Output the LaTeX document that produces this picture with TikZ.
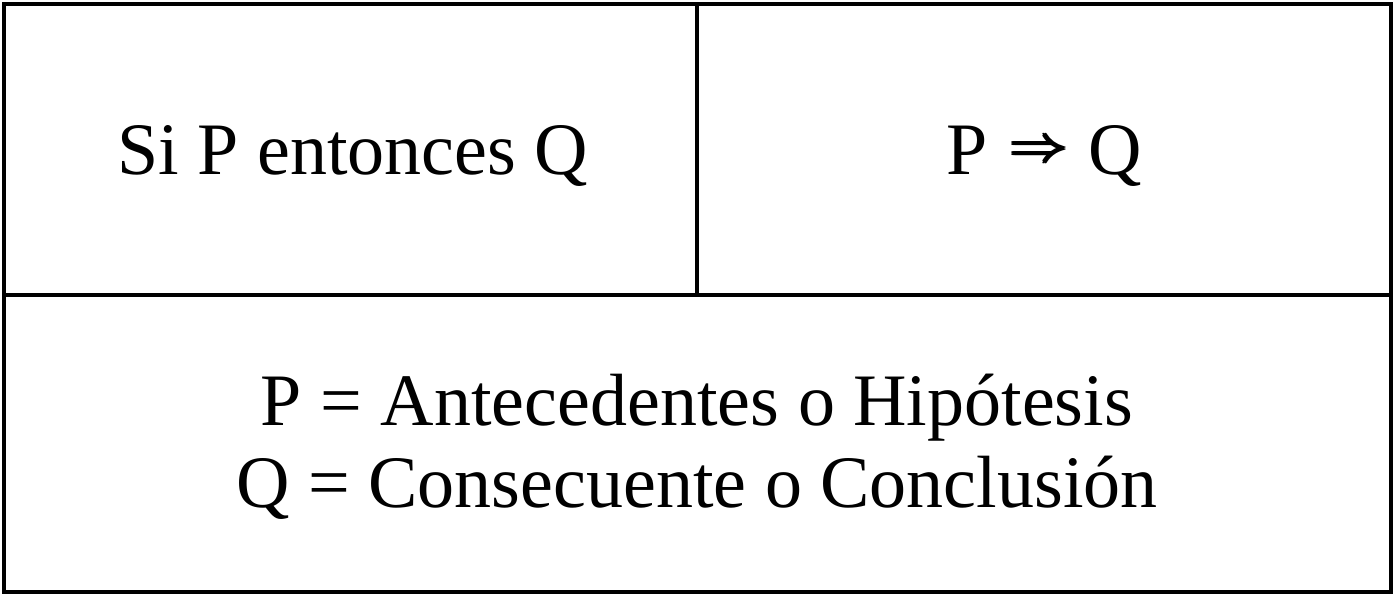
\documentclass[tikz,border=0pt]{standalone}
\usepackage{graphicx}
\usepackage{fontspec}
\setmainfont{Liberation Serif}
\newcommand\myarrowglyph{\resizebox{59pt}{19pt}{\normalsize$\Rightarrow$}}
\newcommand\myboldarrow{\rlap{\myarrowglyph}\rlap{\raisebox{1.4pt}{\myarrowglyph}}\hspace{1.4pt}\rlap{\myarrowglyph}\raisebox{1.4pt}{\myarrowglyph}}
\begin{document}
\begin{tikzpicture}[x=1pt,y=-1pt,
  rule/.style={line width=4pt, draw=black},
  celltext/.style={anchor=base, inner sep=0pt, font=\fontsize{74}{84}\selectfont}]
\useasboundingbox (0,0) rectangle (1396,596);
\draw[rule] (4,4) rectangle (1391,592);
\coordinate (hl) at (4,295);
\coordinate (hr) at (1391,295);
\coordinate (vt) at (697,4);
\coordinate (vb) at (697,295);
\draw[rule] (hl) -- (hr);
\draw[rule] (vt) -- (vb);
\node[celltext] (si) at (353,175) {Si P entonces Q};
\node[celltext] (impl) at (1044,175) {P\hspace{21pt}\raisebox{13pt}{\myboldarrow}\hspace{19pt}Q};
\node[celltext] (p) at (697,425) {P = Antecedentes o Hipótesis};
\node[celltext] (q) at (697,507) {Q = Consecuente o Conclusión};
\end{tikzpicture}
\end{document}
